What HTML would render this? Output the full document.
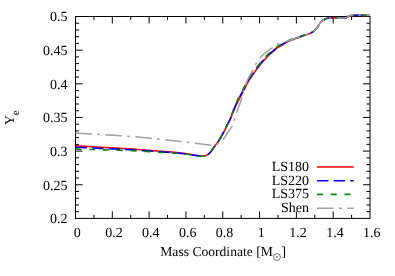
<!DOCTYPE html>
<html><head><meta charset="utf-8"><title>Ye vs Mass Coordinate</title>
<style>
html,body{margin:0;padding:0;background:#fff;}
body{width:395px;height:276px;overflow:hidden;position:relative;font-family:"Liberation Serif",serif;}
</style></head><body>
<svg width="395" height="276" viewBox="0 0 395 276" style="position:absolute;left:0;top:0;will-change:transform">
<rect x="0" y="0" width="395" height="276" fill="#fff"/>
<g stroke="#000" stroke-width="1" fill="none">
<rect x="75.50" y="16.50" width="294.50" height="201.90"/>
<path d="M93.91,218.40 v-3.50 M93.91,16.50 v3.50 M112.31,218.40 v-7.00 M112.31,16.50 v7.00 M130.72,218.40 v-3.50 M130.72,16.50 v3.50 M149.12,218.40 v-7.00 M149.12,16.50 v7.00 M167.53,218.40 v-3.50 M167.53,16.50 v3.50 M185.94,218.40 v-7.00 M185.94,16.50 v7.00 M204.34,218.40 v-3.50 M204.34,16.50 v3.50 M222.75,218.40 v-7.00 M222.75,16.50 v7.00 M241.16,218.40 v-3.50 M241.16,16.50 v3.50 M259.56,218.40 v-7.00 M259.56,16.50 v7.00 M277.97,218.40 v-3.50 M277.97,16.50 v3.50 M296.38,218.40 v-7.00 M296.38,16.50 v7.00 M314.78,218.40 v-3.50 M314.78,16.50 v3.50 M333.19,218.40 v-7.00 M333.19,16.50 v7.00 M351.59,218.40 v-3.50 M351.59,16.50 v3.50 M75.50,211.67 h3.50 M370.00,211.67 h-3.50 M75.50,204.94 h3.50 M370.00,204.94 h-3.50 M75.50,198.21 h3.50 M370.00,198.21 h-3.50 M75.50,191.48 h3.50 M370.00,191.48 h-3.50 M75.50,184.75 h7.00 M370.00,184.75 h-7.00 M75.50,178.02 h3.50 M370.00,178.02 h-3.50 M75.50,171.29 h3.50 M370.00,171.29 h-3.50 M75.50,164.56 h3.50 M370.00,164.56 h-3.50 M75.50,157.83 h3.50 M370.00,157.83 h-3.50 M75.50,151.10 h7.00 M370.00,151.10 h-7.00 M75.50,144.37 h3.50 M370.00,144.37 h-3.50 M75.50,137.64 h3.50 M370.00,137.64 h-3.50 M75.50,130.91 h3.50 M370.00,130.91 h-3.50 M75.50,124.18 h3.50 M370.00,124.18 h-3.50 M75.50,117.45 h7.00 M370.00,117.45 h-7.00 M75.50,110.72 h3.50 M370.00,110.72 h-3.50 M75.50,103.99 h3.50 M370.00,103.99 h-3.50 M75.50,97.26 h3.50 M370.00,97.26 h-3.50 M75.50,90.53 h3.50 M370.00,90.53 h-3.50 M75.50,83.80 h7.00 M370.00,83.80 h-7.00 M75.50,77.07 h3.50 M370.00,77.07 h-3.50 M75.50,70.34 h3.50 M370.00,70.34 h-3.50 M75.50,63.61 h3.50 M370.00,63.61 h-3.50 M75.50,56.88 h3.50 M370.00,56.88 h-3.50 M75.50,50.15 h7.00 M370.00,50.15 h-7.00 M75.50,43.42 h3.50 M370.00,43.42 h-3.50 M75.50,36.69 h3.50 M370.00,36.69 h-3.50 M75.50,29.96 h3.50 M370.00,29.96 h-3.50 M75.50,23.23 h3.50 M370.00,23.23 h-3.50"/>
</g>
<g fill="none" stroke-linejoin="round">
<path d="M75.50,145.80 L76.67,145.87 L78.10,145.95 L79.77,146.04 L81.65,146.15 L83.69,146.27 L85.88,146.39 L88.16,146.52 L90.52,146.66 L92.91,146.80 L95.31,146.93 L97.69,147.07 L100.00,147.20 L102.31,147.33 L104.68,147.46 L107.11,147.59 L109.59,147.72 L112.11,147.86 L114.66,147.99 L117.22,148.13 L119.80,148.28 L122.37,148.43 L124.94,148.58 L127.48,148.74 L130.00,148.90 L132.56,149.08 L135.23,149.27 L137.97,149.47 L140.74,149.68 L143.51,149.90 L146.25,150.11 L148.92,150.32 L151.48,150.53 L153.91,150.72 L156.16,150.90 L158.20,151.06 L160.00,151.20 L161.52,151.31 L162.77,151.40 L163.79,151.47 L164.63,151.52 L165.33,151.56 L165.94,151.59 L166.49,151.63 L167.04,151.66 L167.62,151.70 L168.28,151.75 L169.06,151.82 L170.00,151.90 L171.09,152.00 L172.27,152.11 L173.52,152.23 L174.81,152.36 L176.15,152.50 L177.50,152.64 L178.85,152.78 L180.19,152.93 L181.48,153.07 L182.73,153.22 L183.91,153.36 L185.00,153.50 L186.02,153.64 L187.01,153.79 L187.97,153.94 L188.89,154.09 L189.77,154.25 L190.62,154.40 L191.44,154.55 L192.22,154.70 L192.97,154.84 L193.68,154.97 L194.36,155.09 L195.00,155.20 L195.60,155.30 L196.15,155.39 L196.66,155.48 L197.13,155.56 L197.56,155.63 L197.96,155.69 L198.34,155.75 L198.70,155.81 L199.04,155.86 L199.36,155.91 L199.68,155.96 L200.00,156.00 L200.30,156.04 L200.56,156.08 L200.80,156.11 L201.01,156.14 L201.21,156.17 L201.40,156.19 L201.58,156.21 L201.76,156.22 L201.95,156.23 L202.15,156.23 L202.36,156.22 L202.60,156.20 L202.86,156.18 L203.12,156.15 L203.40,156.12 L203.69,156.08 L203.98,156.03 L204.27,155.98 L204.57,155.92 L204.87,155.86 L205.16,155.78 L205.45,155.70 L205.73,155.60 L206.00,155.50 L206.27,155.39 L206.53,155.26 L206.79,155.12 L207.06,154.98 L207.31,154.82 L207.57,154.66 L207.82,154.49 L208.07,154.32 L208.31,154.15 L208.55,153.97 L208.78,153.78 L209.00,153.60 L209.22,153.41 L209.43,153.22 L209.63,153.03 L209.83,152.83 L210.02,152.63 L210.21,152.42 L210.40,152.21 L210.58,151.99 L210.76,151.77 L210.94,151.55 L211.12,151.33 L211.30,151.10 L211.47,150.87 L211.63,150.65 L211.79,150.42 L211.94,150.20 L212.08,149.97 L212.23,149.73 L212.38,149.49 L212.54,149.24 L212.71,148.97 L212.89,148.70 L213.09,148.41 L213.30,148.10 L213.54,147.77 L213.80,147.41 L214.08,147.03 L214.37,146.63 L214.68,146.22 L214.99,145.80 L215.30,145.38 L215.60,144.97 L215.90,144.57 L216.19,144.19 L216.45,143.83 L216.70,143.50 L216.92,143.20 L217.12,142.94 L217.31,142.70 L217.48,142.48 L217.65,142.27 L217.81,142.07 L217.97,141.86 L218.13,141.64 L218.30,141.40 L218.48,141.14 L218.68,140.84 L218.90,140.50 L219.14,140.12 L219.40,139.69 L219.67,139.24 L219.95,138.76 L220.24,138.26 L220.53,137.74 L220.83,137.23 L221.12,136.71 L221.41,136.20 L221.68,135.71 L221.95,135.24 L222.20,134.80 L222.44,134.39 L222.66,134.00 L222.88,133.62 L223.09,133.26 L223.29,132.91 L223.49,132.56 L223.68,132.21 L223.88,131.85 L224.08,131.49 L224.28,131.11 L224.49,130.72 L224.70,130.30 L224.92,129.86 L225.14,129.40 L225.37,128.92 L225.60,128.42 L225.83,127.92 L226.06,127.41 L226.30,126.91 L226.53,126.41 L226.77,125.92 L227.00,125.43 L227.23,124.97 L227.45,124.52 L227.67,124.10 L227.88,123.69 L228.10,123.30 L228.31,122.92 L228.52,122.55 L228.72,122.18 L228.93,121.81 L229.13,121.44 L229.33,121.06 L229.54,120.68 L229.74,120.28 L229.94,119.86 L230.13,119.44 L230.32,119.03 L230.49,118.62 L230.67,118.20 L230.84,117.78 L231.01,117.36 L231.19,116.92 L231.38,116.46 L231.57,115.98 L231.77,115.48 L231.99,114.95 L232.22,114.39 L232.47,113.78 L232.74,113.12 L233.03,112.41 L233.33,111.68 L233.64,110.93 L233.96,110.16 L234.27,109.40 L234.58,108.64 L234.89,107.91 L235.19,107.21 L235.47,106.55 L235.74,105.95 L235.99,105.39 L236.22,104.89 L236.44,104.42 L236.65,103.98 L236.86,103.56 L237.06,103.16 L237.26,102.75 L237.47,102.35 L237.69,101.93 L237.92,101.49 L238.16,101.02 L238.42,100.51 L238.71,99.96 L239.01,99.37 L239.33,98.76 L239.67,98.12 L240.01,97.47 L240.35,96.82 L240.69,96.16 L241.02,95.52 L241.34,94.90 L241.64,94.31 L241.93,93.76 L242.19,93.25 L242.42,92.81 L242.63,92.43 L242.81,92.09 L242.98,91.78 L243.14,91.50 L243.30,91.22 L243.46,90.94 L243.63,90.64 L243.81,90.32 L244.01,89.95 L244.24,89.53 L244.49,89.05 L244.76,88.51 L245.04,87.94 L245.32,87.34 L245.61,86.72 L245.91,86.07 L246.23,85.39 L246.56,84.70 L246.91,83.98 L247.29,83.25 L247.69,82.51 L248.11,81.75 L248.57,80.99 L249.07,80.18 L249.63,79.32 L250.23,78.42 L250.87,77.48 L251.52,76.53 L252.19,75.57 L252.87,74.61 L253.54,73.67 L254.19,72.76 L254.81,71.89 L255.40,71.07 L255.95,70.32 L256.45,69.63 L256.93,68.97 L257.39,68.35 L257.84,67.76 L258.27,67.20 L258.68,66.67 L259.08,66.16 L259.46,65.67 L259.84,65.19 L260.21,64.73 L260.57,64.29 L260.93,63.85 L261.27,63.43 L261.58,63.05 L261.87,62.70 L262.15,62.38 L262.42,62.07 L262.68,61.77 L262.94,61.48 L263.21,61.18 L263.48,60.88 L263.77,60.57 L264.08,60.23 L264.41,59.87 L264.76,59.48 L265.12,59.08 L265.50,58.67 L265.88,58.24 L266.27,57.81 L266.67,57.37 L267.08,56.94 L267.48,56.51 L267.89,56.09 L268.29,55.67 L268.69,55.28 L269.08,54.90 L269.47,54.54 L269.87,54.18 L270.28,53.82 L270.69,53.48 L271.11,53.14 L271.52,52.80 L271.93,52.47 L272.34,52.15 L272.73,51.84 L273.12,51.52 L273.49,51.22 L273.86,50.92 L274.19,50.63 L274.49,50.36 L274.77,50.10 L275.02,49.86 L275.27,49.63 L275.51,49.40 L275.75,49.18 L276.00,48.95 L276.28,48.72 L276.58,48.48 L276.92,48.23 L277.31,47.95 L277.75,47.66 L278.25,47.34 L278.79,47.00 L279.37,46.65 L279.96,46.30 L280.57,45.94 L281.19,45.58 L281.79,45.23 L282.38,44.89 L282.94,44.54 L283.47,44.23 L283.95,43.93 L284.37,43.67 L284.73,43.43 L285.02,43.23 L285.28,43.04 L285.52,42.87 L285.76,42.71 L286.01,42.55 L286.30,42.38 L286.65,42.19 L287.08,41.97 L287.60,41.72 L288.24,41.44 L289.00,41.11 L289.88,40.74 L290.85,40.35 L291.90,39.93 L293.01,39.49 L294.15,39.05 L295.32,38.59 L296.49,38.14 L297.64,37.70 L298.75,37.27 L299.81,36.86 L300.80,36.50 L301.75,36.17 L302.69,35.85 L303.61,35.55 L304.53,35.26 L305.42,34.98 L306.29,34.70 L307.14,34.42 L307.96,34.14 L308.75,33.85 L309.51,33.55 L310.22,33.23 L310.90,32.90 L311.53,32.56 L312.11,32.21 L312.64,31.86 L313.14,31.50 L313.61,31.14 L314.05,30.77 L314.47,30.39 L314.88,30.00 L315.28,29.59 L315.68,29.18 L316.09,28.75 L316.50,28.30 L316.91,27.82 L317.31,27.31 L317.70,26.77 L318.08,26.20 L318.45,25.63 L318.82,25.05 L319.18,24.48 L319.54,23.92 L319.90,23.38 L320.26,22.88 L320.63,22.41 L321.00,22.00 L321.38,21.63 L321.76,21.29 L322.14,20.97 L322.52,20.68 L322.90,20.41 L323.28,20.17 L323.66,19.94 L324.04,19.73 L324.41,19.53 L324.78,19.35 L325.14,19.17 L325.50,19.00 L325.84,18.84 L326.14,18.71 L326.43,18.59 L326.70,18.49 L326.97,18.40 L327.25,18.32 L327.54,18.25 L327.85,18.19 L328.20,18.14 L328.58,18.09 L329.01,18.05 L329.50,18.00 L330.05,17.96 L330.67,17.93 L331.34,17.91 L332.04,17.90 L332.78,17.89 L333.54,17.89 L334.32,17.90 L335.09,17.90 L335.85,17.90 L336.60,17.91 L337.32,17.91 L338.00,17.90 L338.67,17.89 L339.34,17.89 L340.03,17.89 L340.71,17.90 L341.38,17.90 L342.04,17.90 L342.67,17.90 L343.28,17.89 L343.85,17.88 L344.39,17.86 L344.87,17.84 L345.30,17.80 L345.67,17.75 L345.97,17.70 L346.22,17.64 L346.43,17.57 L346.61,17.50 L346.76,17.43 L346.89,17.34 L347.01,17.26 L347.14,17.17 L347.27,17.08 L347.42,16.99 L347.60,16.90 L347.77,16.80 L347.91,16.69 L348.01,16.58 L348.11,16.46 L348.21,16.33 L348.32,16.21 L348.46,16.09 L348.63,15.97 L348.86,15.86 L349.16,15.76 L349.53,15.67 L350.00,15.60 L350.57,15.54 L351.23,15.49 L351.97,15.46 L352.77,15.43 L353.63,15.41 L354.52,15.39 L355.45,15.38 L356.39,15.38 L357.32,15.37 L358.25,15.37 L359.14,15.36 L360.00,15.35 L360.87,15.34 L361.78,15.34 L362.73,15.33 L363.70,15.33 L364.67,15.33 L365.62,15.33 L366.54,15.34 L367.41,15.34 L368.20,15.34 L368.91,15.35 L369.52,15.35 L370.00,15.35" stroke="#ff0000" stroke-width="1.6"/>
<path d="M75.50,147.20 L76.67,147.25 L78.10,147.32 L79.77,147.40 L81.65,147.49 L83.69,147.59 L85.88,147.69 L88.16,147.80 L90.52,147.91 L92.91,148.02 L95.31,148.13 L97.69,148.24 L100.00,148.35 L102.31,148.46 L104.68,148.56 L107.11,148.67 L109.59,148.78 L112.11,148.89 L114.66,149.00 L117.22,149.11 L119.80,149.23 L122.37,149.36 L124.94,149.48 L127.48,149.62 L130.00,149.76 L132.56,149.91 L135.23,150.08 L137.97,150.26 L140.74,150.44 L143.51,150.64 L146.25,150.83 L148.92,151.02 L151.48,151.20 L153.91,151.37 L156.16,151.53 L158.20,151.68 L160.00,151.80 L161.52,151.90 L162.77,151.98 L163.79,152.03 L164.63,152.08 L165.33,152.12 L165.94,152.15 L166.49,152.17 L167.04,152.20 L167.62,152.24 L168.28,152.28 L169.06,152.34 L170.00,152.42 L171.09,152.51 L172.27,152.62 L173.52,152.73 L174.81,152.85 L176.15,152.97 L177.50,153.10 L178.85,153.24 L180.19,153.37 L181.48,153.51 L182.73,153.64 L183.91,153.77 L185.00,153.90 L186.02,154.03 L187.01,154.16 L187.97,154.29 L188.89,154.43 L189.77,154.56 L190.62,154.70 L191.44,154.83 L192.22,154.96 L192.97,155.08 L193.68,155.20 L194.36,155.30 L195.00,155.40 L195.60,155.49 L196.15,155.57 L196.66,155.64 L197.13,155.71 L197.56,155.78 L197.96,155.83 L198.34,155.89 L198.70,155.94 L199.04,155.98 L199.36,156.02 L199.68,156.06 L200.00,156.10 L200.30,156.13 L200.56,156.17 L200.80,156.20 L201.01,156.22 L201.21,156.25 L201.40,156.26 L201.58,156.28 L201.76,156.29 L201.95,156.29 L202.15,156.28 L202.36,156.27 L202.60,156.25 L202.86,156.22 L203.12,156.19 L203.40,156.15 L203.69,156.11 L203.98,156.06 L204.27,156.00 L204.57,155.94 L204.87,155.87 L205.16,155.79 L205.45,155.70 L205.73,155.61 L206.00,155.50 L206.27,155.38 L206.53,155.26 L206.79,155.12 L207.06,154.97 L207.31,154.82 L207.57,154.66 L207.82,154.49 L208.07,154.32 L208.31,154.14 L208.55,153.96 L208.78,153.78 L209.00,153.60 L209.22,153.41 L209.43,153.22 L209.63,153.03 L209.83,152.83 L210.02,152.63 L210.21,152.42 L210.40,152.21 L210.58,151.99 L210.76,151.77 L210.94,151.55 L211.12,151.33 L211.30,151.10 L211.47,150.87 L211.63,150.65 L211.79,150.42 L211.94,150.20 L212.08,149.97 L212.23,149.73 L212.38,149.49 L212.54,149.24 L212.71,148.97 L212.89,148.70 L213.09,148.41 L213.30,148.10 L213.54,147.77 L213.80,147.41 L214.08,147.03 L214.37,146.63 L214.68,146.22 L214.99,145.80 L215.30,145.38 L215.60,144.97 L215.90,144.57 L216.19,144.19 L216.45,143.83 L216.70,143.50 L216.92,143.20 L217.12,142.94 L217.31,142.70 L217.48,142.48 L217.65,142.27 L217.81,142.07 L217.97,141.86 L218.13,141.64 L218.30,141.40 L218.48,141.14 L218.68,140.84 L218.90,140.50 L219.14,140.12 L219.40,139.69 L219.67,139.24 L219.95,138.76 L220.24,138.26 L220.53,137.74 L220.83,137.23 L221.12,136.71 L221.41,136.20 L221.68,135.71 L221.95,135.24 L222.20,134.80 L222.44,134.39 L222.66,134.00 L222.88,133.62 L223.09,133.26 L223.29,132.91 L223.49,132.56 L223.68,132.21 L223.88,131.85 L224.08,131.49 L224.28,131.11 L224.49,130.72 L224.70,130.30 L224.92,129.86 L225.14,129.40 L225.37,128.92 L225.60,128.42 L225.83,127.92 L226.06,127.41 L226.29,126.90 L226.51,126.40 L226.74,125.90 L226.97,125.42 L227.18,124.95 L227.40,124.50 L227.61,124.07 L227.82,123.66 L228.03,123.27 L228.23,122.88 L228.43,122.50 L228.63,122.13 L228.83,121.76 L229.03,121.39 L229.22,121.01 L229.42,120.62 L229.61,120.22 L229.80,119.80 L229.99,119.38 L230.16,118.96 L230.34,118.55 L230.50,118.14 L230.67,117.72 L230.84,117.29 L231.01,116.84 L231.19,116.39 L231.37,115.90 L231.57,115.40 L231.78,114.87 L232.00,114.30 L232.24,113.69 L232.51,113.02 L232.78,112.32 L233.07,111.58 L233.37,110.82 L233.68,110.05 L233.98,109.28 L234.28,108.52 L234.58,107.78 L234.87,107.08 L235.14,106.41 L235.40,105.80 L235.64,105.24 L235.87,104.73 L236.08,104.26 L236.29,103.81 L236.48,103.39 L236.68,102.98 L236.88,102.57 L237.08,102.16 L237.29,101.73 L237.51,101.29 L237.75,100.81 L238.00,100.30 L238.27,99.74 L238.57,99.15 L238.88,98.53 L239.20,97.89 L239.53,97.23 L239.87,96.57 L240.20,95.91 L240.53,95.27 L240.85,94.65 L241.15,94.06 L241.44,93.51 L241.70,93.00 L241.93,92.55 L242.14,92.17 L242.33,91.82 L242.50,91.51 L242.67,91.23 L242.82,90.95 L242.98,90.67 L243.15,90.37 L243.33,90.05 L243.53,89.69 L243.75,89.28 L244.00,88.80 L244.27,88.27 L244.54,87.71 L244.82,87.11 L245.11,86.49 L245.41,85.83 L245.73,85.16 L246.07,84.46 L246.42,83.74 L246.80,83.00 L247.20,82.25 L247.64,81.48 L248.10,80.70 L248.61,79.89 L249.17,79.02 L249.77,78.11 L250.41,77.17 L251.07,76.21 L251.74,75.25 L252.42,74.29 L253.09,73.35 L253.74,72.44 L254.37,71.57 L254.96,70.75 L255.50,70.00 L256.01,69.30 L256.49,68.64 L256.95,68.02 L257.40,67.43 L257.83,66.87 L258.24,66.33 L258.64,65.82 L259.03,65.33 L259.41,64.85 L259.78,64.39 L260.14,63.94 L260.50,63.50 L260.84,63.08 L261.16,62.70 L261.45,62.35 L261.73,62.02 L262.00,61.71 L262.27,61.41 L262.53,61.11 L262.80,60.81 L263.08,60.51 L263.36,60.20 L263.67,59.86 L264.00,59.50 L264.35,59.12 L264.71,58.71 L265.09,58.30 L265.47,57.87 L265.87,57.44 L266.27,57.00 L266.67,56.56 L267.08,56.13 L267.49,55.70 L267.90,55.29 L268.30,54.88 L268.70,54.50 L269.10,54.13 L269.51,53.76 L269.92,53.41 L270.34,53.06 L270.76,52.71 L271.17,52.38 L271.59,52.05 L271.99,51.72 L272.39,51.41 L272.77,51.10 L273.15,50.80 L273.50,50.50 L273.83,50.22 L274.12,49.95 L274.39,49.70 L274.64,49.46 L274.89,49.23 L275.13,49.00 L275.38,48.77 L275.64,48.54 L275.93,48.30 L276.25,48.05 L276.60,47.78 L277.00,47.50 L277.45,47.20 L277.96,46.87 L278.50,46.53 L279.08,46.18 L279.68,45.82 L280.29,45.46 L280.91,45.10 L281.52,44.75 L282.11,44.41 L282.68,44.09 L283.21,43.78 L283.70,43.50 L284.12,43.25 L284.47,43.03 L284.77,42.84 L285.03,42.66 L285.28,42.50 L285.52,42.34 L285.79,42.17 L286.10,42.00 L286.47,41.82 L286.91,41.61 L287.45,41.37 L288.10,41.10 L288.88,40.79 L289.77,40.45 L290.75,40.08 L291.81,39.69 L292.93,39.29 L294.09,38.88 L295.27,38.46 L296.45,38.04 L297.61,37.63 L298.74,37.23 L299.81,36.86 L300.80,36.50 L301.75,36.17 L302.69,35.85 L303.61,35.55 L304.53,35.26 L305.42,34.98 L306.29,34.70 L307.14,34.42 L307.96,34.14 L308.75,33.85 L309.51,33.55 L310.22,33.23 L310.90,32.90 L311.53,32.56 L312.11,32.21 L312.64,31.86 L313.14,31.50 L313.61,31.14 L314.05,30.77 L314.47,30.39 L314.88,30.00 L315.28,29.59 L315.68,29.18 L316.09,28.75 L316.50,28.30 L316.91,27.82 L317.31,27.31 L317.70,26.77 L318.08,26.20 L318.45,25.63 L318.82,25.05 L319.18,24.48 L319.54,23.92 L319.90,23.38 L320.26,22.88 L320.63,22.41 L321.00,22.00 L321.38,21.63 L321.76,21.29 L322.14,20.97 L322.52,20.68 L322.90,20.41 L323.28,20.17 L323.66,19.94 L324.04,19.73 L324.41,19.53 L324.78,19.35 L325.14,19.17 L325.50,19.00 L325.84,18.84 L326.14,18.71 L326.43,18.59 L326.70,18.49 L326.97,18.40 L327.25,18.32 L327.54,18.25 L327.85,18.19 L328.20,18.14 L328.58,18.09 L329.01,18.05 L329.50,18.00 L330.05,17.96 L330.67,17.93 L331.34,17.91 L332.04,17.90 L332.78,17.89 L333.54,17.89 L334.32,17.90 L335.09,17.90 L335.85,17.90 L336.60,17.91 L337.32,17.91 L338.00,17.90 L338.67,17.89 L339.34,17.89 L340.03,17.89 L340.71,17.90 L341.38,17.90 L342.04,17.90 L342.67,17.90 L343.28,17.89 L343.85,17.88 L344.39,17.86 L344.87,17.84 L345.30,17.80 L345.67,17.75 L345.97,17.70 L346.22,17.64 L346.43,17.57 L346.61,17.50 L346.76,17.43 L346.89,17.34 L347.01,17.26 L347.14,17.17 L347.27,17.08 L347.42,16.99 L347.60,16.90 L347.77,16.80 L347.91,16.69 L348.01,16.58 L348.11,16.46 L348.21,16.33 L348.32,16.21 L348.46,16.09 L348.63,15.97 L348.86,15.86 L349.16,15.76 L349.53,15.67 L350.00,15.60 L350.57,15.54 L351.23,15.49 L351.97,15.46 L352.77,15.43 L353.63,15.41 L354.52,15.39 L355.45,15.38 L356.39,15.38 L357.32,15.37 L358.25,15.37 L359.14,15.36 L360.00,15.35 L360.87,15.34 L361.78,15.34 L362.73,15.33 L363.70,15.33 L364.67,15.33 L365.62,15.33 L366.54,15.34 L367.41,15.34 L368.20,15.34 L368.91,15.35 L369.52,15.35 L370.00,15.35" stroke="#0000ff" stroke-width="1.6" stroke-dasharray="11.5 5.1"/>
<path d="M75.50,149.10 L76.67,149.13 L78.10,149.17 L79.77,149.21 L81.65,149.26 L83.69,149.32 L85.88,149.38 L88.16,149.44 L90.52,149.50 L92.91,149.56 L95.31,149.63 L97.69,149.69 L100.00,149.76 L102.31,149.82 L104.68,149.88 L107.11,149.94 L109.59,149.99 L112.11,150.05 L114.66,150.12 L117.22,150.18 L119.80,150.25 L122.37,150.33 L124.94,150.42 L127.48,150.51 L130.00,150.61 L132.56,150.73 L135.23,150.87 L137.97,151.03 L140.74,151.19 L143.51,151.36 L146.25,151.53 L148.92,151.70 L151.48,151.87 L153.91,152.03 L156.16,152.17 L158.20,152.29 L160.00,152.40 L161.52,152.48 L162.77,152.54 L163.79,152.59 L164.63,152.62 L165.33,152.65 L165.94,152.66 L166.49,152.68 L167.04,152.70 L167.62,152.72 L168.28,152.75 L169.06,152.80 L170.00,152.86 L171.09,152.94 L172.27,153.02 L173.52,153.11 L174.81,153.21 L176.15,153.31 L177.50,153.42 L178.85,153.53 L180.19,153.65 L181.48,153.76 L182.73,153.88 L183.91,153.99 L185.00,154.10 L186.02,154.21 L187.01,154.33 L187.97,154.46 L188.89,154.58 L189.77,154.71 L190.62,154.84 L191.44,154.96 L192.22,155.08 L192.97,155.20 L193.68,155.31 L194.36,155.41 L195.00,155.50 L195.60,155.58 L196.15,155.66 L196.66,155.73 L197.13,155.79 L197.56,155.85 L197.96,155.90 L198.34,155.95 L198.70,156.00 L199.04,156.04 L199.36,156.08 L199.68,156.12 L200.00,156.15 L200.30,156.18 L200.56,156.21 L200.80,156.24 L201.01,156.26 L201.21,156.28 L201.40,156.30 L201.58,156.31 L201.76,156.32 L201.95,156.32 L202.15,156.31 L202.36,156.29 L202.60,156.27 L202.86,156.24 L203.12,156.21 L203.40,156.17 L203.69,156.12 L203.98,156.07 L204.27,156.01 L204.57,155.95 L204.87,155.87 L205.16,155.79 L205.45,155.70 L205.73,155.61 L206.00,155.50 L206.27,155.38 L206.53,155.26 L206.79,155.12 L207.06,154.97 L207.31,154.82 L207.57,154.66 L207.82,154.49 L208.07,154.32 L208.31,154.14 L208.55,153.96 L208.78,153.78 L209.00,153.60 L209.22,153.41 L209.43,153.22 L209.63,153.03 L209.83,152.83 L210.02,152.63 L210.21,152.42 L210.40,152.21 L210.58,151.99 L210.76,151.77 L210.94,151.55 L211.12,151.33 L211.30,151.10 L211.47,150.87 L211.63,150.65 L211.79,150.42 L211.94,150.20 L212.08,149.97 L212.23,149.73 L212.38,149.49 L212.54,149.24 L212.71,148.97 L212.89,148.70 L213.09,148.41 L213.30,148.10 L213.54,147.77 L213.80,147.41 L214.08,147.03 L214.37,146.63 L214.68,146.22 L214.99,145.80 L215.30,145.38 L215.60,144.97 L215.90,144.57 L216.19,144.19 L216.45,143.83 L216.70,143.50 L216.92,143.20 L217.12,142.94 L217.31,142.70 L217.48,142.48 L217.65,142.27 L217.81,142.07 L217.97,141.86 L218.13,141.64 L218.30,141.40 L218.48,141.14 L218.68,140.84 L218.90,140.50 L219.14,140.12 L219.40,139.69 L219.67,139.24 L219.95,138.76 L220.24,138.26 L220.53,137.74 L220.83,137.23 L221.12,136.71 L221.41,136.20 L221.68,135.71 L221.95,135.24 L222.20,134.80 L222.44,134.39 L222.66,134.00 L222.88,133.62 L223.09,133.26 L223.29,132.91 L223.49,132.56 L223.68,132.21 L223.88,131.85 L224.08,131.49 L224.28,131.11 L224.49,130.72 L224.70,130.30 L224.92,129.86 L225.14,129.40 L225.37,128.92 L225.60,128.42 L225.83,127.92 L226.05,127.41 L226.27,126.90 L226.49,126.39 L226.71,125.89 L226.92,125.40 L227.14,124.93 L227.34,124.47 L227.54,124.04 L227.74,123.62 L227.94,123.22 L228.14,122.83 L228.33,122.45 L228.52,122.07 L228.71,121.70 L228.90,121.32 L229.09,120.94 L229.27,120.55 L229.46,120.14 L229.64,119.73 L229.82,119.31 L229.99,118.89 L230.15,118.48 L230.31,118.06 L230.47,117.64 L230.63,117.21 L230.79,116.76 L230.96,116.30 L231.14,115.81 L231.33,115.31 L231.53,114.77 L231.74,114.20 L231.97,113.58 L232.23,112.91 L232.49,112.20 L232.77,111.46 L233.05,110.69 L233.34,109.92 L233.63,109.14 L233.92,108.38 L234.21,107.64 L234.48,106.92 L234.75,106.25 L235.00,105.63 L235.23,105.06 L235.45,104.54 L235.65,104.06 L235.85,103.61 L236.04,103.18 L236.23,102.76 L236.43,102.35 L236.62,101.93 L236.82,101.50 L237.03,101.05 L237.26,100.57 L237.50,100.05 L237.76,99.49 L238.05,98.89 L238.35,98.26 L238.66,97.61 L238.97,96.95 L239.29,96.28 L239.62,95.62 L239.95,94.97 L240.27,94.35 L240.57,93.76 L240.86,93.21 L241.12,92.70 L241.36,92.25 L241.57,91.86 L241.76,91.51 L241.94,91.20 L242.10,90.91 L242.26,90.63 L242.42,90.35 L242.58,90.06 L242.76,89.74 L242.96,89.38 L243.18,88.97 L243.42,88.50 L243.69,87.98 L243.95,87.43 L244.23,86.84 L244.52,86.21 L244.82,85.56 L245.14,84.88 L245.48,84.17 L245.84,83.44 L246.23,82.70 L246.64,81.93 L247.07,81.15 L247.55,80.36 L248.06,79.54 L248.63,78.66 L249.23,77.75 L249.87,76.80 L250.54,75.84 L251.21,74.88 L251.89,73.92 L252.56,72.97 L253.21,72.06 L253.84,71.19 L254.43,70.37 L254.97,69.62 L255.48,68.92 L255.97,68.26 L256.43,67.63 L256.88,67.04 L257.31,66.47 L257.73,65.93 L258.13,65.42 L258.52,64.92 L258.90,64.44 L259.27,63.98 L259.64,63.53 L260.00,63.09 L260.34,62.67 L260.66,62.28 L260.96,61.93 L261.24,61.59 L261.51,61.28 L261.78,60.97 L262.05,60.68 L262.32,60.38 L262.60,60.07 L262.88,59.76 L263.19,59.42 L263.52,59.06 L263.87,58.68 L264.23,58.28 L264.61,57.86 L264.99,57.43 L265.39,57.00 L265.79,56.56 L266.20,56.12 L266.61,55.68 L267.02,55.25 L267.44,54.83 L267.85,54.42 L268.25,54.03 L268.66,53.65 L269.08,53.28 L269.50,52.91 L269.93,52.56 L270.35,52.21 L270.77,51.87 L271.18,51.54 L271.59,51.21 L271.98,50.90 L272.37,50.59 L272.73,50.29 L273.08,50.00 L273.40,49.73 L273.68,49.47 L273.95,49.23 L274.20,48.99 L274.44,48.76 L274.69,48.52 L274.95,48.29 L275.22,48.04 L275.52,47.79 L275.85,47.53 L276.22,47.26 L276.63,46.96 L277.10,46.65 L277.61,46.32 L278.16,45.98 L278.75,45.62 L279.35,45.26 L279.97,44.90 L280.58,44.54 L281.19,44.19 L281.79,43.85 L282.37,43.54 L282.91,43.25 L283.40,42.99 L283.82,42.76 L284.17,42.56 L284.46,42.38 L284.73,42.21 L284.98,42.05 L285.25,41.89 L285.54,41.73 L285.87,41.56 L286.26,41.38 L286.72,41.18 L287.27,40.96 L287.94,40.70 L288.73,40.42 L289.64,40.10 L290.64,39.77 L291.71,39.41 L292.85,39.05 L294.02,38.67 L295.22,38.30 L296.41,37.92 L297.58,37.55 L298.72,37.19 L299.80,36.85 L300.80,36.50 L301.75,36.17 L302.69,35.85 L303.61,35.55 L304.53,35.26 L305.42,34.98 L306.29,34.70 L307.14,34.42 L307.96,34.14 L308.75,33.85 L309.51,33.55 L310.22,33.23 L310.90,32.90 L311.53,32.56 L312.11,32.21 L312.64,31.86 L313.14,31.50 L313.61,31.14 L314.05,30.77 L314.47,30.39 L314.88,30.00 L315.28,29.59 L315.68,29.18 L316.09,28.75 L316.50,28.30 L316.91,27.82 L317.31,27.31 L317.70,26.77 L318.08,26.20 L318.45,25.63 L318.82,25.05 L319.18,24.48 L319.54,23.92 L319.90,23.38 L320.26,22.88 L320.63,22.41 L321.00,22.00 L321.38,21.63 L321.76,21.29 L322.14,20.97 L322.52,20.68 L322.90,20.41 L323.28,20.17 L323.66,19.94 L324.04,19.73 L324.41,19.53 L324.78,19.35 L325.14,19.17 L325.50,19.00 L325.84,18.84 L326.14,18.71 L326.43,18.59 L326.70,18.49 L326.97,18.40 L327.25,18.32 L327.54,18.25 L327.85,18.19 L328.20,18.14 L328.58,18.09 L329.01,18.05 L329.50,18.00 L330.05,17.96 L330.67,17.93 L331.34,17.91 L332.04,17.90 L332.78,17.89 L333.54,17.89 L334.32,17.90 L335.09,17.90 L335.85,17.90 L336.60,17.91 L337.32,17.91 L338.00,17.90 L338.67,17.89 L339.34,17.89 L340.03,17.89 L340.71,17.90 L341.38,17.90 L342.04,17.90 L342.67,17.90 L343.28,17.89 L343.85,17.88 L344.39,17.86 L344.87,17.84 L345.30,17.80 L345.67,17.75 L345.97,17.70 L346.22,17.64 L346.43,17.57 L346.61,17.50 L346.76,17.43 L346.89,17.34 L347.01,17.26 L347.14,17.17 L347.27,17.08 L347.42,16.99 L347.60,16.90 L347.77,16.80 L347.91,16.69 L348.01,16.58 L348.11,16.46 L348.21,16.33 L348.32,16.21 L348.46,16.09 L348.63,15.97 L348.86,15.86 L349.16,15.76 L349.53,15.67 L350.00,15.60 L350.57,15.54 L351.23,15.49 L351.97,15.46 L352.77,15.43 L353.63,15.41 L354.52,15.39 L355.45,15.38 L356.39,15.38 L357.32,15.37 L358.25,15.37 L359.14,15.36 L360.00,15.35 L360.87,15.34 L361.78,15.34 L362.73,15.33 L363.70,15.33 L364.67,15.33 L365.62,15.33 L366.54,15.34 L367.41,15.34 L368.20,15.34 L368.91,15.35 L369.52,15.35 L370.00,15.35" stroke="#0d870d" stroke-width="1.6" stroke-dasharray="6 7.75"/>
<path d="M75.50,133.20 L76.67,133.26 L78.10,133.33 L79.77,133.42 L81.65,133.51 L83.69,133.62 L85.88,133.73 L88.16,133.85 L90.52,133.97 L92.91,134.10 L95.31,134.23 L97.69,134.37 L100.00,134.50 L102.31,134.63 L104.68,134.77 L107.11,134.91 L109.59,135.05 L112.11,135.20 L114.66,135.35 L117.22,135.51 L119.80,135.67 L122.37,135.84 L124.94,136.02 L127.48,136.20 L130.00,136.40 L132.52,136.61 L135.06,136.83 L137.62,137.06 L140.19,137.30 L142.75,137.55 L145.31,137.80 L147.85,138.06 L150.37,138.31 L152.85,138.57 L155.29,138.82 L157.68,139.06 L160.00,139.30 L162.29,139.53 L164.57,139.77 L166.84,140.01 L169.07,140.25 L171.28,140.48 L173.44,140.72 L175.55,140.95 L177.59,141.17 L179.57,141.39 L181.47,141.60 L183.28,141.81 L185.00,142.00 L186.61,142.18 L188.11,142.36 L189.52,142.52 L190.85,142.68 L192.11,142.83 L193.31,142.98 L194.47,143.12 L195.59,143.26 L196.70,143.40 L197.79,143.53 L198.89,143.67 L200.00,143.80 L201.12,143.94 L202.24,144.09 L203.35,144.25 L204.44,144.40 L205.52,144.56 L206.56,144.71 L207.58,144.84 L208.56,144.96 L209.49,145.06 L210.38,145.14 L211.22,145.19 L212.00,145.20 L212.71,145.19 L213.36,145.15 L213.94,145.10 L214.47,145.03 L214.96,144.94 L215.42,144.82 L215.85,144.69 L216.27,144.54 L216.69,144.36 L217.11,144.16 L217.54,143.94 L218.00,143.70 L218.47,143.43 L218.94,143.13 L219.40,142.80 L219.86,142.45 L220.31,142.08 L220.76,141.69 L221.21,141.28 L221.64,140.86 L222.07,140.43 L222.49,139.99 L222.90,139.55 L223.30,139.10 L223.69,138.65 L224.06,138.18 L224.42,137.70 L224.77,137.21 L225.11,136.71 L225.45,136.19 L225.78,135.67 L226.12,135.15 L226.45,134.62 L226.80,134.08 L227.14,133.54 L227.50,133.00 L227.87,132.45 L228.26,131.89 L228.65,131.32 L229.06,130.74 L229.46,130.16 L229.86,129.57 L230.26,128.99 L230.64,128.40 L231.02,127.82 L231.37,127.24 L231.70,126.66 L232.00,126.10 L232.27,125.55 L232.52,125.02 L232.74,124.50 L232.94,123.99 L233.13,123.47 L233.31,122.96 L233.48,122.44 L233.65,121.91 L233.82,121.37 L234.00,120.81 L234.19,120.22 L234.40,119.60 L234.61,118.96 L234.83,118.31 L235.04,117.64 L235.25,116.96 L235.47,116.27 L235.69,115.56 L235.91,114.83 L236.15,114.08 L236.39,113.32 L236.65,112.53 L236.92,111.73 L237.20,110.90 L237.51,110.04 L237.84,109.15 L238.18,108.23 L238.55,107.29 L238.92,106.32 L239.30,105.34 L239.68,104.36 L240.05,103.37 L240.42,102.39 L240.76,101.41 L241.09,100.44 L241.40,99.50 L241.68,98.56 L241.94,97.63 L242.18,96.69 L242.40,95.75 L242.62,94.81 L242.83,93.88 L243.03,92.96 L243.24,92.04 L243.46,91.14 L243.69,90.24 L243.94,89.36 L244.20,88.50 L244.48,87.65 L244.77,86.81 L245.07,85.98 L245.37,85.17 L245.68,84.36 L246.00,83.56 L246.32,82.78 L246.65,82.00 L246.98,81.23 L247.32,80.48 L247.66,79.73 L248.00,79.00 L248.35,78.28 L248.70,77.58 L249.06,76.90 L249.43,76.23 L249.81,75.57 L250.18,74.92 L250.56,74.27 L250.93,73.63 L251.31,72.98 L251.68,72.33 L252.04,71.67 L252.40,71.00 L252.75,70.32 L253.10,69.62 L253.44,68.91 L253.78,68.19 L254.11,67.48 L254.45,66.76 L254.79,66.06 L255.12,65.36 L255.46,64.69 L255.80,64.03 L256.15,63.40 L256.50,62.80 L256.85,62.23 L257.21,61.68 L257.56,61.16 L257.92,60.65 L258.28,60.16 L258.64,59.68 L259.00,59.22 L259.37,58.76 L259.74,58.32 L260.12,57.88 L260.51,57.44 L260.90,57.00 L261.30,56.57 L261.70,56.14 L262.11,55.73 L262.53,55.33 L262.94,54.93 L263.37,54.54 L263.80,54.15 L264.23,53.77 L264.67,53.40 L265.11,53.03 L265.55,52.66 L266.00,52.30 L266.45,51.94 L266.90,51.60 L267.36,51.26 L267.82,50.93 L268.29,50.60 L268.76,50.28 L269.23,49.96 L269.71,49.64 L270.20,49.31 L270.69,48.98 L271.19,48.65 L271.70,48.30 L272.21,47.94 L272.71,47.57 L273.21,47.20 L273.71,46.81 L274.22,46.42 L274.74,46.04 L275.28,45.65 L275.83,45.28 L276.40,44.91 L277.00,44.56 L277.64,44.22 L278.30,43.90 L279.00,43.61 L279.71,43.34 L280.46,43.08 L281.22,42.85 L282.01,42.62 L282.82,42.40 L283.65,42.18 L284.50,41.95 L285.37,41.72 L286.26,41.46 L287.17,41.19 L288.10,40.90 L289.07,40.58 L290.08,40.24 L291.13,39.88 L292.21,39.51 L293.32,39.13 L294.43,38.74 L295.55,38.35 L296.65,37.96 L297.74,37.58 L298.80,37.20 L299.82,36.84 L300.80,36.50 L301.75,36.18 L302.69,35.87 L303.61,35.57 L304.53,35.28 L305.42,34.99 L306.29,34.71 L307.14,34.43 L307.96,34.14 L308.75,33.85 L309.51,33.55 L310.22,33.23 L310.90,32.90 L311.53,32.56 L312.11,32.21 L312.64,31.86 L313.14,31.50 L313.61,31.14 L314.05,30.77 L314.47,30.39 L314.88,30.00 L315.28,29.59 L315.68,29.18 L316.09,28.75 L316.50,28.30 L316.91,27.82 L317.31,27.31 L317.70,26.77 L318.08,26.20 L318.45,25.63 L318.82,25.05 L319.18,24.48 L319.54,23.92 L319.90,23.38 L320.26,22.88 L320.63,22.41 L321.00,22.00 L321.38,21.63 L321.76,21.29 L322.14,20.97 L322.52,20.68 L322.90,20.41 L323.28,20.17 L323.66,19.94 L324.04,19.73 L324.41,19.53 L324.78,19.35 L325.14,19.17 L325.50,19.00 L325.84,18.84 L326.14,18.71 L326.43,18.59 L326.70,18.49 L326.97,18.40 L327.25,18.32 L327.54,18.25 L327.85,18.19 L328.20,18.14 L328.58,18.09 L329.01,18.05 L329.50,18.00 L330.05,17.96 L330.67,17.93 L331.34,17.91 L332.04,17.90 L332.78,17.89 L333.54,17.89 L334.32,17.90 L335.09,17.90 L335.85,17.90 L336.60,17.91 L337.32,17.91 L338.00,17.90 L338.67,17.89 L339.34,17.89 L340.03,17.89 L340.71,17.90 L341.38,17.90 L342.04,17.90 L342.67,17.90 L343.28,17.89 L343.85,17.88 L344.39,17.86 L344.87,17.84 L345.30,17.80 L345.67,17.75 L345.97,17.70 L346.22,17.64 L346.43,17.57 L346.61,17.50 L346.76,17.43 L346.89,17.34 L347.01,17.26 L347.14,17.17 L347.27,17.08 L347.42,16.99 L347.60,16.90 L347.77,16.80 L347.91,16.69 L348.01,16.58 L348.11,16.46 L348.21,16.33 L348.32,16.21 L348.46,16.09 L348.63,15.97 L348.86,15.86 L349.16,15.76 L349.53,15.67 L350.00,15.60 L350.57,15.54 L351.23,15.49 L351.97,15.46 L352.77,15.43 L353.63,15.41 L354.52,15.39 L355.45,15.38 L356.39,15.38 L357.32,15.37 L358.25,15.37 L359.14,15.36 L360.00,15.35 L360.87,15.34 L361.78,15.34 L362.73,15.33 L363.70,15.33 L364.67,15.33 L365.62,15.33 L366.54,15.34 L367.41,15.34 L368.20,15.34 L368.91,15.35 L369.52,15.35 L370.00,15.35" stroke="#a0a0a0" stroke-width="1.5" stroke-dasharray="16.4 5.4 2.6 5.6"/>
</g>
<g fill="none">
<path d="M317,167 H353.8" stroke="#ff0000" stroke-width="1.6"/>
<path d="M317,180.8 H353.8" stroke="#0000ff" stroke-width="1.6" stroke-dasharray="11.5 5.1"/>
<path d="M317,194.4 H353.8" stroke="#0d870d" stroke-width="1.6" stroke-dasharray="6 7.75"/>
<path d="M317,208.3 H353.8" stroke="#a0a0a0" stroke-width="1.5" stroke-dasharray="16.5 5.5 2.8 5.5"/>
</g>
<g font-family="'Liberation Serif', serif" font-size="13.6" fill="#000" text-rendering="geometricPrecision">
<text x="77.20" y="237.1" text-anchor="middle" font-size="14">0</text>
<text x="114.01" y="237.1" text-anchor="middle" font-size="14">0.2</text>
<text x="150.82" y="237.1" text-anchor="middle" font-size="14">0.4</text>
<text x="187.64" y="237.1" text-anchor="middle" font-size="14">0.6</text>
<text x="224.45" y="237.1" text-anchor="middle" font-size="14">0.8</text>
<text x="261.26" y="237.1" text-anchor="middle" font-size="14">1</text>
<text x="298.07" y="237.1" text-anchor="middle" font-size="14">1.2</text>
<text x="334.89" y="237.1" text-anchor="middle" font-size="14">1.4</text>
<text x="371.70" y="237.1" text-anchor="middle" font-size="14">1.6</text>
<text x="67.4" y="223.20" text-anchor="end" font-size="14">0.2</text>
<text x="67.4" y="189.55" text-anchor="end" font-size="14">0.25</text>
<text x="67.4" y="155.90" text-anchor="end" font-size="14">0.3</text>
<text x="67.4" y="122.25" text-anchor="end" font-size="14">0.35</text>
<text x="67.4" y="88.60" text-anchor="end" font-size="14">0.4</text>
<text x="67.4" y="54.95" text-anchor="end" font-size="14">0.45</text>
<text x="67.4" y="21.30" text-anchor="end" font-size="14">0.5</text>
<text x="309.0" y="171.20" text-anchor="end" font-size="14">LS180</text>
<text x="309.0" y="184.80" text-anchor="end" font-size="14">LS220</text>
<text x="309.0" y="198.40" text-anchor="end" font-size="14">LS375</text>
<text x="309.0" y="212.00" text-anchor="end" font-size="14">Shen</text>
<text x="272.8" y="256.1" text-anchor="end">Mass Coordinate [M</text>
<text x="281.6" y="256.1">]</text>
<text transform="translate(14.1,125.0) rotate(-90)">Y<tspan font-size="11" dy="4.8">e</tspan></text>
</g>
<circle cx="277.0" cy="257.0" r="3.4" fill="none" stroke="#000" stroke-width="0.55"/><circle cx="277.0" cy="257.0" r="0.75" fill="#000"/>
</svg>
</body></html>
